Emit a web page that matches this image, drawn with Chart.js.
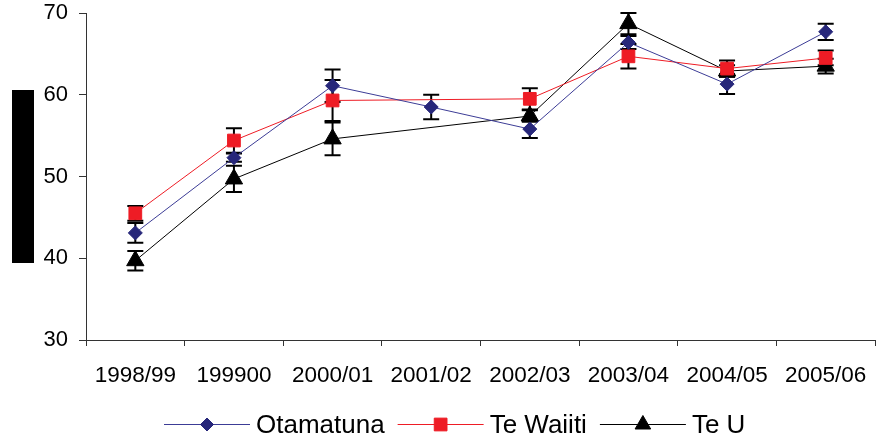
<!DOCTYPE html>
<html>
<head>
<meta charset="utf-8">
<script src="https://cdn.jsdelivr.net/npm/chart.js@4/dist/chart.umd.min.js"></script>
<style>
  body { margin: 0; background: #fff; }
  #wrap { position: relative; width: 877px; height: 438px; }
  #blackbox { position: absolute; left: 12px; top: 90px; width: 22px; height: 173px; background: #000; }
</style>
</head>
<body>
<div id="wrap">
  <canvas id="chart"></canvas>
  <div id="blackbox"></div>
</div>
<script>
var years = ['1998/99', '199900', '2000/01', '2001/02', '2002/03', '2003/04', '2004/05', '2005/06'];

var otamatuna = [43.1, 52.3, 61.1, 58.5, 55.8, 66.4, 61.3, 67.7];
var otamatunaErr = [1.2, 0.5, 2.0, 1.5, 1.1, 0.8, 1.2, 1.0];

var teWaiiti = [45.5, 54.4, 59.3, null, 59.5, 64.7, 63.2, 64.5];
var teWaiitiErr = [0.9, 1.5, 2.5, null, 1.3, 1.5, 1.0, 0.9];

var teU = [39.7, 49.7, 54.6, null, 57.4, 68.7, 62.9, 63.5];
var teUErr = [1.2, 1.6, 2.0, null, 0.7, 1.3, 0.7, 0.9];

var yTicks = [30, 40, 50, 60, 70];

var fontFamily = '"Liberation Sans", Arial, sans-serif';

var errorSets = [otamatunaErr, teWaiitiErr, teUErr];

// error bars under the markers
var errorBars = {
    id: 'errorBars',
    beforeDatasetsDraw(chart) {
        var ctx = chart.ctx;
        var xs = chart.scales.x;
        var ys = chart.scales.y;
        ctx.save();
        ctx.strokeStyle = '#000';
        ctx.lineWidth = 2;
        errorSets.forEach((errs, d) => {
            var vals = chart.data.datasets[d].data;
            errs.forEach((e, i) => {
                if (e == null || vals[i] == null)
                    return;
                var px = xs.getPixelForValue(i);
                var top = ys.getPixelForValue(vals[i] + e);
                var bot = ys.getPixelForValue(vals[i] - e);
                ctx.beginPath();
                ctx.moveTo(px, top);
                ctx.lineTo(px, bot);
                ctx.moveTo(px - 8, top);
                ctx.lineTo(px + 8, top);
                ctx.moveTo(px - 8, bot);
                ctx.lineTo(px + 8, bot);
                ctx.stroke();
            });
        });
        ctx.restore();
    }
};

// excel style legend: line with marker in the middle, then the name
var lineLegend = {
    id: 'lineLegend',
    afterDraw(chart) {
        var ctx = chart.ctx;
        var x = 164;
        var y = 424.5;
        ctx.save();
        ctx.font = '26px ' + fontFamily;
        ctx.textBaseline = 'middle';
        chart.data.datasets.forEach((ds) => {
            ctx.strokeStyle = ds.borderColor;
            ctx.lineWidth = 1;
            ctx.beginPath();
            ctx.moveTo(x, y);
            ctx.lineTo(x + 86, y);
            ctx.stroke();
            ctx.fillStyle = ds.pointBackgroundColor;
            ctx.strokeStyle = ds.pointBackgroundColor;
            Chart.helpers.drawPoint(ctx, { pointStyle: ds.pointStyle, radius: ds.legendRadius, rotation: 0, borderWidth: 1 }, x + 43, y);
            ctx.fillStyle = '#000';
            ctx.fillText(ds.label, x + 92, y + 1);
            x += 92 + ctx.measureText(ds.label).width + 13;
        });
        ctx.restore();
    }
};

var datasets = [
    {
        label: 'Otamatuna',
        data: otamatuna,
        borderColor: '#3c3c96',
        backgroundColor: '#27277a',
        pointBackgroundColor: '#27277a',
        pointBorderColor: '#27277a',
        pointStyle: 'rectRot',
        pointRadius: 7,
        legendRadius: 6.5,
        borderWidth: 1
    },
    {
        label: 'Te Waiiti',
        data: teWaiiti,
        borderColor: '#ee1c25',
        backgroundColor: '#ee1c25',
        pointBackgroundColor: '#ee1c25',
        pointBorderColor: '#ee1c25',
        pointStyle: 'rect',
        pointRadius: 9,
        legendRadius: 9,
        borderWidth: 1,
        spanGaps: true
    },
    {
        label: 'Te U',
        data: teU,
        borderColor: '#000',
        backgroundColor: '#000',
        pointBackgroundColor: '#000',
        pointBorderColor: '#000',
        pointStyle: 'triangle',
        pointRadius: 10,
        legendRadius: 9,
        borderWidth: 1,
        spanGaps: true
    }
];

new Chart(document.getElementById('chart'), {
    type: 'line',
    data: { labels: years, datasets: datasets },
    plugins: [errorBars, lineLegend],
    options: {
        responsive: true,
        maintainAspectRatio: false,
        animation: false,
        layout: { autoPadding: false, padding: { top: 13, right: 2, left: 0, bottom: 36 } },
        elements: { line: { tension: 0 } },
        plugins: {
            tooltip: { enabled: false },
            legend: { display: false }
        },
        scales: {
            x: {
                offset: true,
                grid: { offset: true, drawOnChartArea: false, tickLength: 6, color: '#333' },
                border: { color: '#333', width: 1 },
                ticks: {
                    color: '#000',
                    padding: 16,
                    maxRotation: 0,
                    autoSkip: false,
                    font: { family: fontFamily, size: 22.5 }
                },
                afterFit: (s) => {
                    s.height = 62;
                    s.paddingLeft = 0;
                    s.paddingRight = 0;
                }
            },
            y: {
                min: 30,
                max: 70,
                afterBuildTicks: (s) => { s.ticks = yTicks.map(v => ({ value: v })); },
                grid: { drawOnChartArea: false, tickLength: 7, color: '#333' },
                border: { color: '#333', width: 1 },
                ticks: {
                    color: '#000',
                    padding: 11,
                    font: { family: fontFamily, size: 22 }
                },
                afterFit: (s) => {
                    s.width = 86;
                    s.paddingTop = 0;
                    s.paddingBottom = 0;
                }
            }
        }
    }
});
</script>
</body>
</html>
